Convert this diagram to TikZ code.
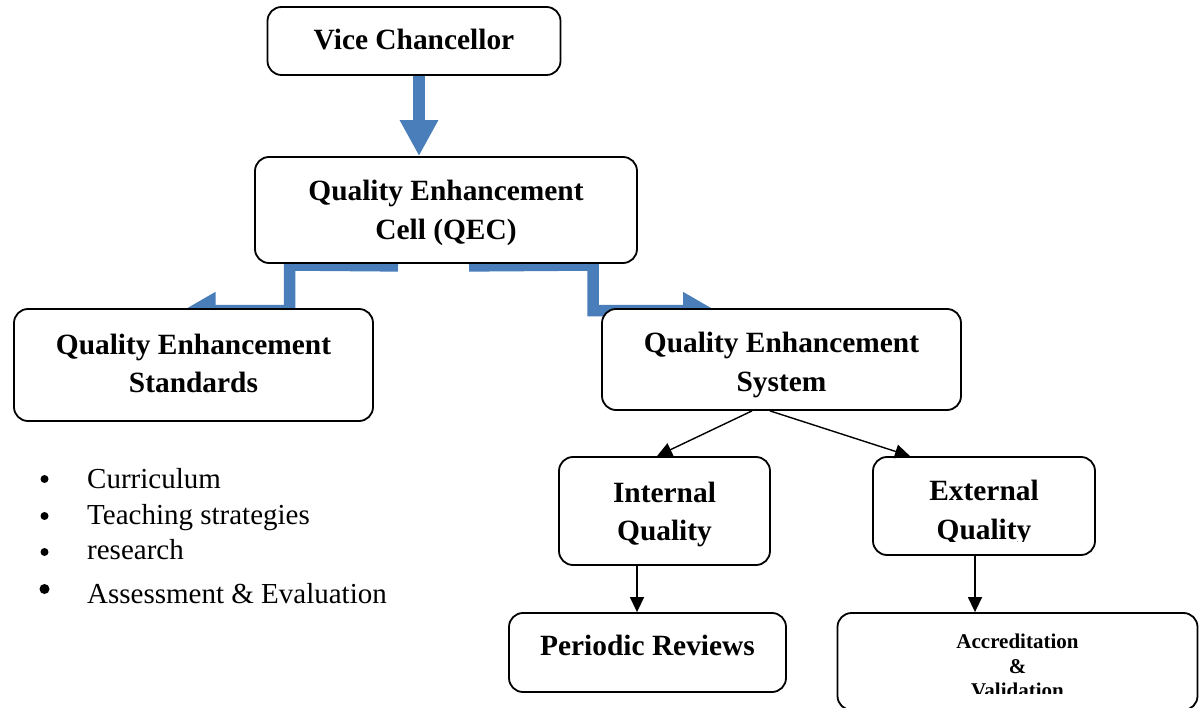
\documentclass[tikz,border=0pt]{standalone}
\usepackage{fontspec}
\setmainfont{Liberation Serif}
\usetikzlibrary{arrows.meta,backgrounds}
\definecolor{qblue}{RGB}{74,126,187}
\newcommand\BoxFont{\fontsize{29.4}{38.5}\selectfont\bfseries}
\newcommand\SmallBoxFont{\fontsize{21}{24.5}\selectfont\bfseries}
\newcommand\ListFont{\fontsize{29}{34}\selectfont}
\begin{document}
\begin{tikzpicture}[x=1pt,y=-1pt,
  box/.style={draw, line width=1.8pt, rounded corners=14pt, fill=white, inner sep=0pt},
  lbl/.style={inner sep=0pt, align=center, font=\BoxFont},
  slbl/.style={inner sep=0pt, align=center, font=\SmallBoxFont},
  item/.style={inner sep=0pt, anchor=base west, font=\ListFont},
  bigarrow/.style={draw=qblue, line width=11.5pt, line join=miter, -{Triangle[length=33pt,width=35pt]}},
  downarrow/.style={draw=qblue, line width=12pt, -{Triangle[length=36pt,width=36pt]}},
  conn/.style={draw, line width=1.4pt, -{Triangle[length=15pt,width=14pt]}}]
\useasboundingbox (0,0) rectangle (1202,708);

\node[box, minimum width=293pt, minimum height=68pt] (vc) at (414,41) {};
\node[box, minimum width=382pt, minimum height=106pt] (qec) at (446,210) {};
\node[box, minimum width=359pt, minimum height=112pt] (std) at (193.5,365) {};
\node[box, minimum width=359pt, minimum height=101pt] (sys) at (781.5,359.5) {};
\node[box, minimum width=211pt, minimum height=108pt] (int) at (664.5,511) {};
\node[box, minimum width=222pt, minimum height=98pt] (ext) at (984,506) {};
\node[box, minimum width=277pt, minimum height=79pt] (per) at (647.5,652.5) {};
\node[box, minimum width=360pt, minimum height=97pt] (acc) at (1017.5,661.5) {};

\node[lbl] (vct) at ([yshift=1pt]vc.center) {Vice Chancellor};
\node[lbl] (qect) at ([yshift=-3pt]qec.center) {Quality Enhancement\\Cell (QEC)};
\node[lbl] (stdt) at ([yshift=1.5pt]std.center) {Quality Enhancement\\Standards};
\node[lbl] (syst) at ([yshift=-5.5pt]sys.center) {Quality Enhancement\\System};
\node[lbl] (intt) at ([yshift=-3.5pt]int.center) {Internal\\Quality};
\node[lbl] (pert) at ([yshift=7.5pt]per.center) {Periodic Reviews};
\begin{scope}
  \clip (873,457) rectangle (1095,541);
  \node[lbl] (extt) at ([yshift=-7pt]ext.center) {External\\Quality};
\end{scope}
\begin{scope}
  \clip (837,613) rectangle (1198,693.5);
  \node[slbl] (acct) at ([yshift=-4.5pt]acc.center) {Accreditation\\\&\\Validation};
\end{scope}

\begin{pgfonlayer}{background}
  \fill[white] (0,0) rectangle (1202,708);
  \draw[downarrow] ([xshift=5pt]vc.south) -- ([xshift=-27pt]qec.north);
  \coordinate (lbend) at (289.6,265);
  \coordinate (rbend) at (593,265);
  \draw[bigarrow] ([xshift=-48pt,yshift=-2pt]qec.south) -- (lbend) |- ([xshift=-11pt,yshift=-2.5pt]std.north);
  \draw[bigarrow] ([xshift=23pt,yshift=-2pt]qec.south) -- (rbend) |- ([xshift=-65.5pt,yshift=-2.5pt]sys.north);
\end{pgfonlayer}

\draw[conn] ([xshift=-29.5pt]sys.south) -- ([xshift=-7.5pt]int.north);
\draw[conn] ([xshift=-11.5pt]sys.south) -- ([xshift=-74pt]ext.north);
\draw[conn] ([xshift=-27.5pt]int.south) -- ([xshift=-10.5pt]per.north);
\draw[conn] ([xshift=-9pt]ext.south) -- ([xshift=-42.5pt]acc.north);

\fill (44.5,479) circle (4pt);
\fill (44.5,516) circle (4pt);
\fill (44.5,552) circle (4pt);
\fill (44.5,589) circle (5pt);
\node[item] (i1) at (87,488) {Curriculum};
\node[item] (i2) at (87,524) {Teaching strategies};
\node[item] (i3) at (87,559) {research};
\node[item] (i4) at (87,603) {Assessment \& Evaluation};
\end{tikzpicture}
\end{document}
